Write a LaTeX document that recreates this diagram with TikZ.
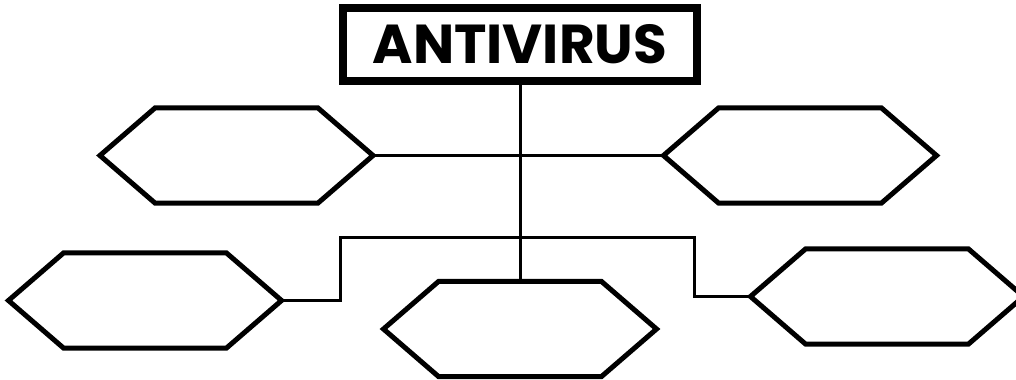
\documentclass[tikz,border=0pt]{standalone}
\usepackage{fontspec}
\newfontfamily\titlefont{Poppins}
\begin{document}
\begin{tikzpicture}[
  x=0.025cm, y=-0.025cm,
  titlebox/.style={rectangle, draw, line width=0.2cm, minimum width=8.85cm,
    minimum height=1.825cm, inner sep=0pt, font=\titlefont\bfseries\fontsize{39}{44}\selectfont},
  hexbox/.style={rectangle, minimum width=6.825cm, minimum height=2.375cm, inner sep=0pt, outer sep=0pt},
  hexline/.style={line width=0.125cm, line join=miter},
  link/.style={line width=0.075cm}
]
\useasboundingbox (0,0) rectangle (1016,380);

% Title
\node[titlebox] (title) at (520,44.5) {ANTIVIRUS};

% Hexagon boxes
\node[hexbox] (tl) at (236.5,155.5) {};
\node[hexbox] (tr) at (800,155.5) {};
\node[hexbox] (bl) at (145,300.5) {};
\node[hexbox] (bm) at (520,329) {};
\node[hexbox] (br) at (887,296.5) {};

\foreach \h in {tl,tr,bl,bm,br}
  \draw[hexline] (\h.west) -- ([xshift=1.375cm]\h.north west) -- ([xshift=-1.375cm]\h.north east)
    -- (\h.east) -- ([xshift=-1.375cm]\h.south east) -- ([xshift=1.375cm]\h.south west) -- cycle;

% Connectors
\coordinate (jl) at (340,237);
\coordinate (jr) at (694,237);
\draw[link] (title.south) -- (bm.north);
\draw[link] (tl.east) -- (tr.west);
\draw[link] (bl.east) -| (jl) -- (jr) |- (br.west);

\end{tikzpicture}
\end{document}
